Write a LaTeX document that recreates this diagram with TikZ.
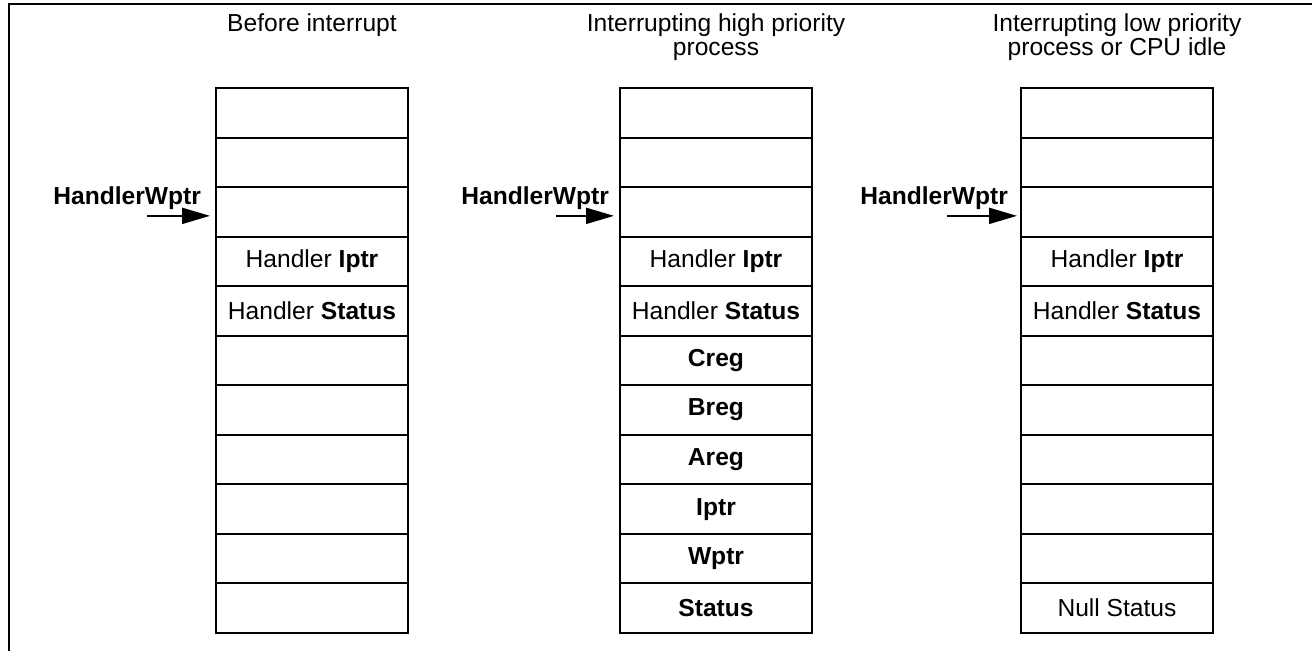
\documentclass[tikz,border=0pt]{standalone}
\usepackage{fontspec}
\setmainfont{Liberation Sans}
\usetikzlibrary{arrows.meta,positioning}
\tikzset{
	cell/.style={draw, minimum width=96pt, minimum height=24.77pt, inner sep=0pt, outer sep=0pt, font=\fontsize{12.3}{14}\selectfont},
	title/.style={align=center, anchor=north, inner sep=0pt, font=\fontsize{12.3}{11.8}\selectfont},
	wlabel/.style={anchor=east, inner sep=0pt, font=\fontsize{12.3}{14}\selectfont\bfseries},
	ptr/.style={-{Triangle[length=14pt,width=8pt]}},
}

\begin{document}
\begin{tikzpicture}[line cap=rect,line join=miter,line width=1pt,x=0.5pt,y=-0.5pt]
	\useasboundingbox (0,0) rectangle (1312,650);
	% frame
	\draw (1312,4) -- (9,4) -- (9,650);
	% before interrupt
	\node[cell, anchor=north west] (a1) at (216,88) {};
	\node[cell, below=0pt of a1] (a2) {};
	\node[cell, below=0pt of a2] (a3) {};
	\node[cell, below=0pt of a3] (a4) {Handler \textbf{Iptr}};
	\node[cell, below=0pt of a4] (a5) {Handler \textbf{Status}};
	\node[cell, below=0pt of a5] (a6) {};
	\node[cell, below=0pt of a6] (a7) {};
	\node[cell, below=0pt of a7] (a8) {};
	\node[cell, below=0pt of a8] (a9) {};
	\node[cell, below=0pt of a9] (a10) {};
	\node[cell, below=0pt of a10] (a11) {};
		\node[title] (ta) at (a1.north |- 0,13) {Before interrupt};
		\node[wlabel] (wa) at ([xshift=-7pt,yshift=7pt]a3.west) {HandlerWptr};
		\coordinate (pa) at ([xshift=-34pt,yshift=-2pt]a3.west);
		\coordinate (qa) at ([xshift=-3pt,yshift=-2pt]a3.west);
		\draw[ptr] (pa) -- (qa);
	% high priority
	\node[cell, anchor=north west] (b1) at (620,88) {};
	\node[cell, below=0pt of b1] (b2) {};
	\node[cell, below=0pt of b2] (b3) {};
	\node[cell, below=0pt of b3] (b4) {Handler \textbf{Iptr}};
	\node[cell, below=0pt of b4] (b5) {Handler \textbf{Status}};
	\node[cell, below=0pt of b5] (b6) {\textbf{Creg}};
	\node[cell, below=0pt of b6] (b7) {\textbf{Breg}};
	\node[cell, below=0pt of b7] (b8) {\textbf{Areg}};
	\node[cell, below=0pt of b8] (b9) {\textbf{Iptr}};
	\node[cell, below=0pt of b9] (b10) {\textbf{Wptr}};
	\node[cell, below=0pt of b10] (b11) {\textbf{Status}};
		\node[title] (tb) at (b1.north |- 0,13) {Interrupting high priority\\process};
		\node[wlabel] (wb) at ([xshift=-5pt,yshift=7pt]b3.west) {HandlerWptr};
		\coordinate (pb) at ([xshift=-31.5pt,yshift=-2pt]b3.west);
		\coordinate (qb) at ([xshift=-3pt,yshift=-2pt]b3.west);
		\draw[ptr] (pb) -- (qb);
	% low priority
	\node[cell, anchor=north west] (c1) at (1021,88) {};
	\node[cell, below=0pt of c1] (c2) {};
	\node[cell, below=0pt of c2] (c3) {};
	\node[cell, below=0pt of c3] (c4) {Handler \textbf{Iptr}};
	\node[cell, below=0pt of c4] (c5) {Handler \textbf{Status}};
	\node[cell, below=0pt of c5] (c6) {};
	\node[cell, below=0pt of c6] (c7) {};
	\node[cell, below=0pt of c7] (c8) {};
	\node[cell, below=0pt of c8] (c9) {};
	\node[cell, below=0pt of c9] (c10) {};
	\node[cell, below=0pt of c10] (c11) {Null Status};
		\node[title] (tc) at (c1.north |- 0,13) {Interrupting low priority\\process or CPU idle};
		\node[wlabel] (wc) at ([xshift=-6pt,yshift=7pt]c3.west) {HandlerWptr};
		\coordinate (pc) at ([xshift=-36.5pt,yshift=-2pt]c3.west);
		\coordinate (qc) at ([xshift=-2pt,yshift=-2pt]c3.west);
		\draw[ptr] (pc) -- (qc);
\end{tikzpicture}
\end{document}
